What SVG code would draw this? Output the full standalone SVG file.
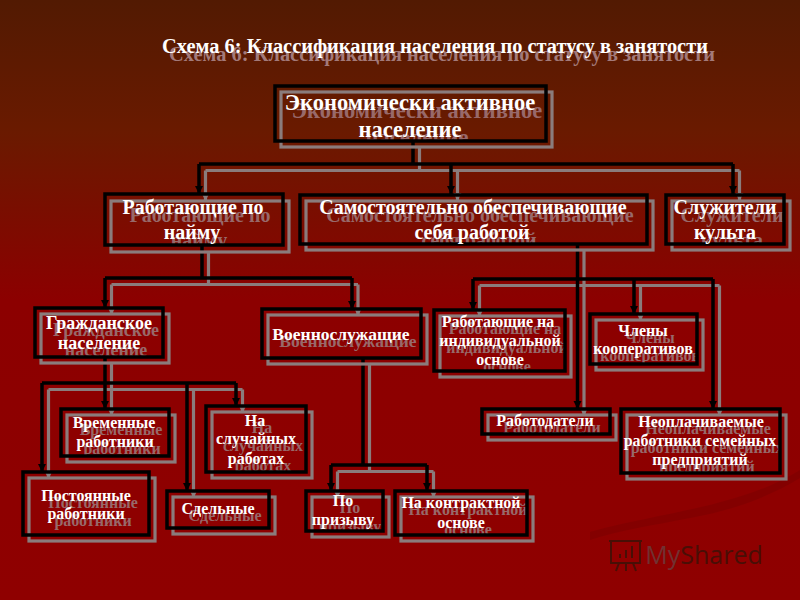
<svg xmlns="http://www.w3.org/2000/svg" width="800" height="600" viewBox="0 0 800 600">
<style>
text{font-family:"Liberation Serif","Times New Roman",serif;font-weight:700;text-anchor:middle;fill:#fff}
.s text{fill:#98696a}
.b{fill:none;stroke:#000;stroke-width:3.5}
.g{fill:none;stroke:#8a7c7c;stroke-width:3.2}
.cg{fill:none;stroke:#8a7c7c;stroke-width:3.2}
.ck{fill:none;stroke:#000;stroke-width:3.5}
.t19{font-size:22.500px}.t17{font-size:20px}.t16{font-size:18px}.t14{font-size:16px}.t15{font-size:16px}.t175{font-size:17.500px}
</style>
<defs>
<linearGradient id="bg" x1="0" y1="0" x2="0" y2="1">
<stop offset="0" stop-color="#521a02"/><stop offset="0.22" stop-color="#6a1a00"/><stop offset="0.5" stop-color="#8c0000"/><stop offset="1" stop-color="#8f0000"/>
</linearGradient>
<marker id="ak" markerWidth="8" markerHeight="10" refX="8" refY="4" orient="auto" markerUnits="userSpaceOnUse"><path d="M0,0L8,4L0,8Z" fill="#000"/></marker>
<marker id="ag" markerWidth="8" markerHeight="10" refX="8" refY="4" orient="auto" markerUnits="userSpaceOnUse"><path d="M0,0L8,4L0,8Z" fill="#8a7c7c"/></marker>
<clipPath id="c1"><rect x="275" y="86" width="271" height="55"/></clipPath>
<clipPath id="c2"><rect x="105" y="194" width="178" height="51"/></clipPath>
<clipPath id="c3"><rect x="300" y="195" width="347" height="49"/></clipPath>
<clipPath id="c4"><rect x="666" y="195" width="118" height="49"/></clipPath>
<clipPath id="c5"><rect x="35" y="308" width="128" height="49"/></clipPath>
<clipPath id="c6"><rect x="262" y="309" width="159" height="49"/></clipPath>
<clipPath id="c7"><rect x="434" y="310" width="131" height="61"/></clipPath>
<clipPath id="c8"><rect x="590" y="314" width="107" height="50"/></clipPath>
<clipPath id="c9"><rect x="482" y="409" width="128" height="25"/></clipPath>
<clipPath id="c10"><rect x="621" y="409" width="159" height="64"/></clipPath>
<clipPath id="c11"><rect x="61" y="409" width="108" height="47"/></clipPath>
<clipPath id="c12"><rect x="206" y="406" width="100" height="66"/></clipPath>
<clipPath id="c13"><rect x="23" y="472" width="126" height="63"/></clipPath>
<clipPath id="c14"><rect x="167" y="491" width="102" height="37"/></clipPath>
<clipPath id="c15"><rect x="306" y="491" width="77" height="40"/></clipPath>
<clipPath id="c16"><rect x="395" y="491" width="132" height="44"/></clipPath>
</defs>
<rect width="800" height="600" fill="url(#bg)"/>
<path d="M590,532C640,518 690,512 735,498C770,488 790,476 800,470L800,478C770,496 735,510 690,518C650,526 620,530 590,540Z" fill="#7f0000" opacity=".7"/>
<g id="watermark" opacity=".85">
<g fill="none" stroke="#3c1208" stroke-width="2"><rect x="611" y="541" width="29" height="22"/><path d="M609,541h33M619,563l-3,8M626,563v8M633,563l3,8"/><path d="M620,558v-4M626,558v-8M632,558v-12"/></g>
<text x="704" y="564" style="font-family:'Open Sans','Noto Sans',sans-serif;font-weight:400;font-size:25px;fill:#3c1208"><tspan style="fill:#6c3a3a">My</tspan>Shared</text>
</g>
<g id="title">
<text x="442" y="61" style="font-size:20.400px;fill:#a37a7a">Схема 6: Классификация населения по статусу в занятости</text>
<text x="435" y="53" style="font-size:20.400px">Схема 6: Классификация населения по статусу в занятости</text>
</g>
<g id="connectors">
<g class="cg">
<path d="M419.500,147V170.500M205.500,170.500H739.500M205.500,170.500V201" marker-end="url(#ag)"/>
<path d="M457.500,170.500V201" marker-end="url(#ag)"/>
<path d="M739.500,170.500V201" marker-end="url(#ag)"/>
<path d="M208.500,251V284.500M111.500,284.500H358M111.500,284.500V315" marker-end="url(#ag)"/>
<path d="M358,284.500V316" marker-end="url(#ag)"/>
<path d="M584,250V416" marker-end="url(#ag)"/>
<path d="M479.500,285.500H719.500M479.500,285.500V317" marker-end="url(#ag)"/>
<path d="M640.500,285.500V321" marker-end="url(#ag)"/>
<path d="M719.500,285.500V416" marker-end="url(#ag)"/>
<path d="M111.500,363V389.500M48.500,389.500H242.500M48.500,389.500V479" marker-end="url(#ag)"/>
<path d="M111.500,389.500V416" marker-end="url(#ag)"/>
<path d="M193.500,389.500V498" marker-end="url(#ag)"/>
<path d="M242.500,389.500V413" marker-end="url(#ag)"/>
<path d="M369.500,364V471.500M337.500,471.500H433.500M337.500,471.500V498" marker-end="url(#ag)"/>
<path d="M433.500,471.500V498" marker-end="url(#ag)"/>
</g>
<g class="ck">
<path d="M413,142V164M199,164H733M199,164V194" marker-end="url(#ak)"/>
<path d="M451,164V194" marker-end="url(#ak)"/>
<path d="M733,164V194" marker-end="url(#ak)"/>
<path d="M202,245V278M105,278H352M105,278V308" marker-end="url(#ak)"/>
<path d="M352,278V309" marker-end="url(#ak)"/>
<path d="M577.500,244V409" marker-end="url(#ak)"/>
<path d="M473,279H713M473,279V310" marker-end="url(#ak)"/>
<path d="M634,279V314" marker-end="url(#ak)"/>
<path d="M713,279V409" marker-end="url(#ak)"/>
<path d="M105,357V383M42,383H236M42,383V472" marker-end="url(#ak)"/>
<path d="M105,383V409" marker-end="url(#ak)"/>
<path d="M187,383V491" marker-end="url(#ak)"/>
<path d="M236,383V406" marker-end="url(#ak)"/>
<path d="M363,358V465M331,465H427M331,465V491" marker-end="url(#ak)"/>
<path d="M427,465V491" marker-end="url(#ak)"/>
</g>
</g>
<g id="n1"><rect class="g" x="281" y="92" width="271" height="55"/><g clip-path="url(#c1)"><g class="s t19" transform="translate(7,8)"><text x="410" y="110">Экономически активное</text><text x="410" y="137">население</text></g></g><rect class="b" x="275" y="86" width="271" height="55"/><g class="t19"><text x="410" y="110">Экономически активное</text><text x="410" y="137">население</text></g></g>
<g id="n2"><rect class="g" x="111" y="201" width="178" height="51"/><g clip-path="url(#c2)"><g class="s t17" transform="translate(7,8)"><text x="193" y="214">Работающие по</text><text x="192" y="239">найму</text></g></g><rect class="b" x="105" y="194" width="178" height="51"/><g class="t17"><text x="193" y="214">Работающие по</text><text x="192" y="239">найму</text></g></g>
<g id="n3"><rect class="g" x="306" y="201" width="347" height="49"/><g clip-path="url(#c3)"><g class="s t17" transform="translate(7,8)"><text x="473" y="214">Самостоятельно обеспечивающие</text><text x="472" y="239">себя работой</text></g></g><rect class="b" x="300" y="195" width="347" height="49"/><g class="t17"><text x="473" y="214">Самостоятельно обеспечивающие</text><text x="472" y="239">себя работой</text></g></g>
<g id="n4"><rect class="g" x="672" y="201" width="118" height="49"/><g clip-path="url(#c4)"><g class="s t17" transform="translate(7,8)"><text x="725" y="214">Служители</text><text x="725" y="239">культа</text></g></g><rect class="b" x="666" y="195" width="118" height="49"/><g class="t17"><text x="725" y="214">Служители</text><text x="725" y="239">культа</text></g></g>
<g id="n5"><rect class="g" x="41" y="314" width="128" height="49"/><g clip-path="url(#c5)"><g class="s t16" transform="translate(7,7)"><text x="99" y="329">Гражданское</text><text x="99" y="349">население</text></g></g><rect class="b" x="35" y="308" width="128" height="49"/><g class="t16"><text x="99" y="329">Гражданское</text><text x="99" y="349">население</text></g></g>
<g id="n6"><rect class="g" x="268" y="315" width="159" height="49"/><g clip-path="url(#c6)"><g class="s t175" transform="translate(7,7)"><text x="341" y="340">Военнослужащие</text></g></g><rect class="b" x="262" y="309" width="159" height="49"/><g class="t175"><text x="341" y="340">Военнослужащие</text></g></g>
<g id="n7"><rect class="g" x="440" y="316" width="131" height="61"/><g clip-path="url(#c7)"><g class="s t14" transform="translate(7,7)"><text x="498" y="327">Работающие на</text><text x="500" y="346">индивидуальной</text><text x="500" y="365">основе</text></g></g><rect class="b" x="434" y="310" width="131" height="61"/><g class="t14"><text x="498" y="327">Работающие на</text><text x="500" y="346">индивидуальной</text><text x="500" y="365">основе</text></g></g>
<g id="n8"><rect class="g" x="596" y="320" width="107" height="50"/><g clip-path="url(#c8)"><g class="s t14" transform="translate(7,7)"><text x="643" y="336">Члены</text><text x="643" y="354">кооперативов</text></g></g><rect class="b" x="590" y="314" width="107" height="50"/><g class="t14"><text x="643" y="336">Члены</text><text x="643" y="354">кооперативов</text></g></g>
<g id="n9"><rect class="g" x="488" y="415" width="128" height="25"/><g clip-path="url(#c9)"><g class="s t14" transform="translate(7,7)"><text x="545" y="426">Работодатели</text></g></g><rect class="b" x="482" y="409" width="128" height="25"/><g class="t14"><text x="545" y="426">Работодатели</text></g></g>
<g id="n10"><rect class="g" x="627" y="415" width="159" height="64"/><g clip-path="url(#c10)"><g class="s t14" transform="translate(7,7)"><text x="701" y="427">Неоплачиваемые</text><text x="700" y="446">работники семейных</text><text x="700" y="465">предприятий</text></g></g><rect class="b" x="621" y="409" width="159" height="64"/><g class="t14"><text x="701" y="427">Неоплачиваемые</text><text x="700" y="446">работники семейных</text><text x="700" y="465">предприятий</text></g></g>
<g id="n11"><rect class="g" x="67" y="415" width="108" height="47"/><g clip-path="url(#c11)"><g class="s t14" transform="translate(7,7)"><text x="114" y="428">Временные</text><text x="115" y="447">работники</text></g></g><rect class="b" x="61" y="409" width="108" height="47"/><g class="t14"><text x="114" y="428">Временные</text><text x="115" y="447">работники</text></g></g>
<g id="n12"><rect class="g" x="212" y="412" width="100" height="66"/><g clip-path="url(#c12)"><g class="s t14" transform="translate(7,7)"><text x="255" y="426">На</text><text x="256" y="444">случайных</text><text x="256" y="464">работах</text></g></g><rect class="b" x="206" y="406" width="100" height="66"/><g class="t14"><text x="255" y="426">На</text><text x="256" y="444">случайных</text><text x="256" y="464">работах</text></g></g>
<g id="n13"><rect class="g" x="29" y="478" width="126" height="63"/><g clip-path="url(#c13)"><g class="s t14" transform="translate(7,7)"><text x="86" y="501">Постоянные</text><text x="86" y="519">работники</text></g></g><rect class="b" x="23" y="472" width="126" height="63"/><g class="t14"><text x="86" y="501">Постоянные</text><text x="86" y="519">работники</text></g></g>
<g id="n14"><rect class="g" x="173" y="497" width="102" height="37"/><g clip-path="url(#c14)"><g class="s t15" transform="translate(7,7)"><text x="218" y="514">Сдельные</text></g></g><rect class="b" x="167" y="491" width="102" height="37"/><g class="t15"><text x="218" y="514">Сдельные</text></g></g>
<g id="n15"><rect class="g" x="312" y="497" width="77" height="40"/><g clip-path="url(#c15)"><g class="s t14" transform="translate(7,7)"><text x="343" y="506">По</text><text x="343" y="525">призыву</text></g></g><rect class="b" x="306" y="491" width="77" height="40"/><g class="t14"><text x="343" y="506">По</text><text x="343" y="525">призыву</text></g></g>
<g id="n16"><rect class="g" x="401" y="497" width="132" height="44"/><g clip-path="url(#c16)"><g class="s t14" transform="translate(7,7)"><text x="461" y="508">На контрактной</text><text x="461" y="528">основе</text></g></g><rect class="b" x="395" y="491" width="132" height="44"/><g class="t14"><text x="461" y="508">На контрактной</text><text x="461" y="528">основе</text></g></g>
</svg>
